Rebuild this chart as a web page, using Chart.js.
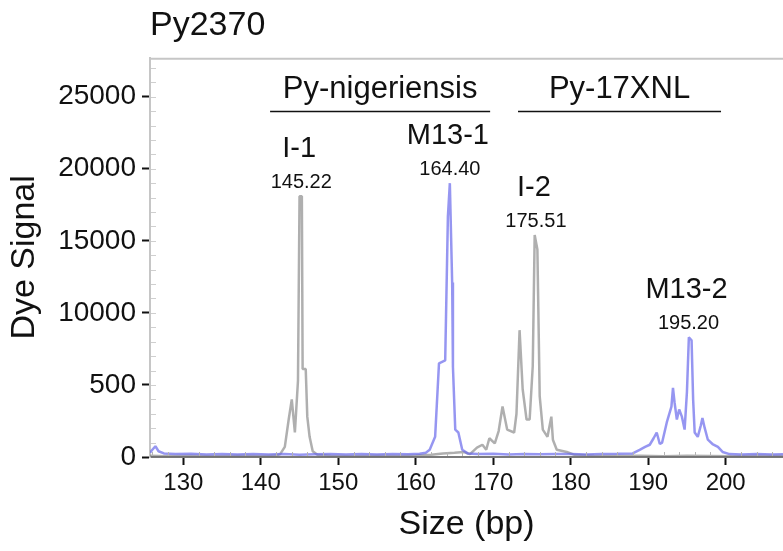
<!DOCTYPE html>
<html>
<head>
<meta charset="utf-8">
<script src="https://cdn.jsdelivr.net/npm/chart.js@4.4.1/dist/chart.umd.min.js"></script>
<style>
  body { margin: 0; background: #fff; }
  #wrap { width: 783px; height: 551px; }
</style>
</head>
<body>
<div id="wrap"><canvas id="trace" width="783" height="551"></canvas></div>
<script>
// axis ticks
const xTicks = [130, 140, 150, 160, 170, 180, 190, 200];
const yTicks = [0, 5000, 10000, 15000, 20000, 25000];
const yTickLabels = ['0', '500', '10000', '15000', '20000', '25000']; // as printed on the original

// blue dye trace (size in bp, signal)
const blueSize = [125.7, 126.0, 126.4, 126.8, 127.5, 129, 131, 133, 135, 137, 139, 141, 143, 145, 147, 149, 151, 153, 155, 157, 159,
  160.5, 161.3, 161.8, 162.5, 163.0, 163.8, 164.15, 164.4, 164.7, 164.8, 165.1, 165.5, 166.0, 166.7, 168, 170, 172, 174, 176,
  178, 180, 182, 184, 186, 188, 188.9, 189.6, 190.2, 190.7, 191.1, 191.5, 191.8, 192.4, 193.0, 193.2, 193.4, 193.7, 194.0,
  194.35, 194.7, 195.0, 195.25, 195.6, 195.8, 196.0, 196.4, 196.8, 197.0, 197.3, 197.7, 198.3, 199.0, 199.6, 200.5, 202, 204, 206, 207.4];
const blueSignal = [300, 500, 750, 400, 250, 200, 220, 180, 200, 170, 200, 180, 200, 160, 190, 200, 180, 200, 170, 200, 190,
  230, 300, 500, 1400, 6500, 6700, 16700, 19000, 12100, 6250, 1900, 1700, 500, 250, 200, 220, 180, 200, 190,
  210, 200, 180, 200, 220, 250, 500, 700, 850, 1300, 1700, 900, 1000, 2400, 3500, 4800, 3800, 2600, 3300,
  2800, 1900, 4500, 8300, 8100, 4000, 1700, 1400, 2200, 2700, 2000, 1200, 900, 700, 350, 200, 180, 200, 170, 190];

// gray dye trace
const graySize = [125.7, 128, 131, 134, 137, 140, 142.0, 142.5, 143.1, 143.6, 144.0, 144.4, 144.8, 145.0, 145.3, 145.4, 145.8,
  146.0, 146.3, 146.7, 147.3, 149, 152, 155, 158, 160, 162, 163.5, 165, 166.2, 167.0, 167.9, 168.6, 169.1, 169.5, 170.2,
  170.7, 171.2, 171.8, 172.7, 173.0, 173.4, 173.8, 174.3, 174.7, 175.1, 175.35, 175.7, 176.0, 176.4, 177.0, 177.5, 177.7,
  178.2, 179.5, 180.5, 183, 186, 189, 192, 195, 198, 201, 204, 207.4];
const graySignal = [80, 60, 80, 60, 80, 70, 100, 200, 700, 2600, 4000, 1700, 5300, 18100, 18100, 6100, 6100,
  2800, 1400, 400, 150, 80, 60, 80, 70, 100, 150, 250, 300, 350, 200, 650, 850, 500, 1300, 950,
  1800, 3500, 1900, 1700, 3000, 8800, 4700, 2600, 2600, 6300, 15400, 14400, 4200, 1900, 1400, 2800, 1200,
  500, 350, 150, 80, 70, 80, 60, 80, 70, 60, 80, 70];

// called peaks
const peakNames = ['I-1', 'M13-1', 'I-2', 'M13-2'];
const peakSizes = [145.22, 164.40, 175.51, 195.20];
const peakDye = ['gray', 'blue', 'gray', 'blue'];

// strain brackets
const groupNames = ['Py-nigeriensis', 'Py-17XNL'];
const groupStart = [141.2, 173.2];
const groupEnd = [169.6, 199.4];
const groupLevel = 24000;

const FONT = '"Liberation Sans", Arial, Helvetica, sans-serif';
Chart.defaults.font.family = FONT;
Chart.defaults.color = '#111';

const bluePoints = blueSize.map((s, i) => ({ x: s, y: blueSignal[i] }));
const grayPoints = graySize.map((s, i) => ({ x: s, y: graySignal[i] }));

const traceLabels = {
    id: 'traceLabels',
    afterDatasetsDraw(chart) {
        const { ctx, chartArea, scales: { x, y } } = chart;
        ctx.save();

        // frame top
        ctx.strokeStyle = '#c6c6c6';
        ctx.lineWidth = 2;
        ctx.beginPath();
        ctx.moveTo(chartArea.left, chartArea.top + 1);
        ctx.lineTo(chartArea.right, chartArea.top + 1);
        ctx.stroke();

        // minor ticks inside the frame
        ctx.strokeStyle = '#cfcfcf';
        ctx.lineWidth = 1;
        for (let v = 1000; v < y.max; v += 1000) {
            const py = Math.round(y.getPixelForValue(v)) + 0.5;
            ctx.beginPath();
            ctx.moveTo(chartArea.left + 1, py);
            ctx.lineTo(chartArea.left + 6, py);
            ctx.stroke();
        }
        ctx.strokeStyle = '#b4b4b4';
        for (let s = 126; s < x.max; s += 2) {
            if (s % 10 === 0) continue;
            const px = Math.round(x.getPixelForValue(s)) + 0.5;
            ctx.beginPath();
            ctx.moveTo(px, chartArea.bottom - 1);
            ctx.lineTo(px, chartArea.bottom - 5);
            ctx.stroke();
        }

        ctx.fillStyle = '#111';
        ctx.strokeStyle = '#111';
        ctx.textAlign = 'center';
        ctx.textBaseline = 'alphabetic';

        // strain brackets
        ctx.lineWidth = 1.5;
        ctx.font = '31px ' + FONT;
        groupNames.forEach((name, i) => {
            const x1 = x.getPixelForValue(groupStart[i]);
            const x2 = x.getPixelForValue(groupEnd[i]);
            const ly = Math.round(y.getPixelForValue(groupLevel)) + 0.5;
            ctx.beginPath();
            ctx.moveTo(x1, ly);
            ctx.lineTo(x2, ly);
            ctx.stroke();
            ctx.fillText(name, (x1 + x2) / 2, ly - 14);
        });

        // peak names and sizes above the tallest sample of each peak
        peakNames.forEach((name, i) => {
            const size = peakSizes[i];
            const pts = peakDye[i] === 'blue' ? bluePoints : grayPoints;
            let top = 0;
            pts.forEach(p => { if (Math.abs(p.x - size) < 0.6) top = Math.max(top, p.y); });
            const px = x.getPixelForValue(size);
            const py = y.getPixelForValue(top);
            ctx.font = '20px ' + FONT;
            ctx.fillText(size.toFixed(2), px, py - 8);
            ctx.font = '29px ' + FONT;
            ctx.fillText(name, px - 2, py - 39);
        });

        ctx.restore();
    }
};

new Chart(document.getElementById('trace'), {
    type: 'line',
    data: {
        datasets: [{
            label: 'blue',
            data: bluePoints,
            borderColor: 'rgba(105, 105, 235, 0.7)',
            borderWidth: 2.5,
            borderJoinStyle: 'bevel',
            pointRadius: 0,
            tension: 0,
            fill: false
        }, {
            label: 'gray',
            data: grayPoints,
            borderColor: 'rgba(110, 110, 110, 0.55)',
            borderWidth: 2.5,
            borderJoinStyle: 'bevel',
            pointRadius: 0,
            tension: 0,
            fill: false
        }]
    },
    options: {
        responsive: false,
        animation: false,
        layout: { padding: { top: 0, right: 0, bottom: 0, left: 0 } },
        plugins: {
            legend: { display: false },
            tooltip: { enabled: false },
            title: {
                display: true,
                text: 'Py2370',
                align: 'start',
                fullSize: false,
                color: '#111',
                font: { size: 34, weight: 'normal' },
                padding: { top: 5, bottom: 12 }
            }
        },
        scales: {
            x: {
                type: 'linear',
                min: 125.7,
                max: 207.4,
                afterBuildTicks: scale => { scale.ticks = xTicks.map(v => ({ value: v })); },
                afterFit: scale => { scale.height = 94; },
                ticks: {
                    font: { size: 24 },
                    color: '#111',
                    padding: 4,
                    maxRotation: 0,
                    autoSkip: false
                },
                grid: {
                    drawOnChartArea: false,
                    drawTicks: true,
                    tickLength: 8,
                    tickColor: '#111',
                    tickWidth: 2
                },
                border: { color: '#7a7a7a', width: 2 },
                title: {
                    display: true,
                    text: 'Size (bp)',
                    color: '#111',
                    font: { size: 34 },
                    padding: { top: 0, bottom: 6 }
                }
            },
            y: {
                type: 'linear',
                min: 0,
                max: 27700,
                afterBuildTicks: scale => { scale.ticks = yTicks.map(v => ({ value: v })); },
                afterFit: scale => { scale.width = 150; },
                ticks: {
                    font: { size: 28 },
                    color: '#111',
                    padding: 6,
                    autoSkip: false,
                    callback: (value) => yTickLabels[yTicks.indexOf(value)]
                },
                grid: {
                    drawOnChartArea: false,
                    drawTicks: true,
                    tickLength: 8,
                    tickColor: '#111',
                    tickWidth: 2
                },
                border: { color: '#c6c6c6', width: 2 },
                title: {
                    display: true,
                    text: 'Dye Signal',
                    color: '#111',
                    font: { size: 34 },
                    padding: { top: 4, bottom: 0 }
                }
            }
        }
    },
    plugins: [traceLabels]
});
</script>
</body>
</html>
